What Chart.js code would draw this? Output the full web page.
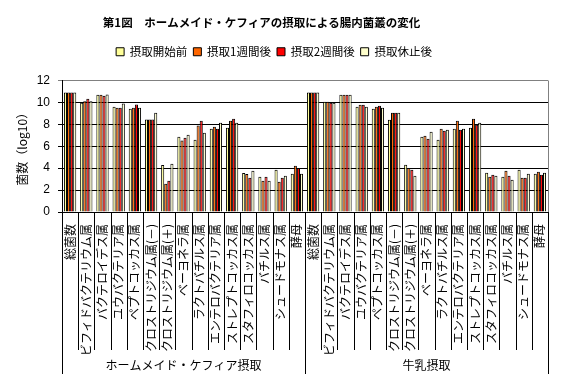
<!DOCTYPE html>
<html>
<head>
<meta charset="utf-8">
<script src="https://cdn.jsdelivr.net/npm/chart.js@4"></script>
<style>
  html, body { margin: 0; padding: 0; background: #fff; }
  #wrap { width: 563px; height: 391px; }
</style>
</head>
<body>
<div id="wrap"><canvas id="chart"></canvas></div>
<script>
const chartTitle = '第1図　ホームメイド・ケフィアの摂取による腸内菌叢の変化';
const groups = ['ホームメイド・ケフィア摂取', '牛乳摂取'];
const bacteria = ['総菌数', 'ビフィドバクテリウム属', 'バクテロイデス属', 'ユウバクテリア属', 'ペプトコッカス属',
  'クロストリジウム属(－)', 'クロストリジウム属(＋)', 'ベーヨネラ属', 'ラクトバチルス属', 'エンテロバクテリア属',
  'ストレプトコッカス属', 'スタフィロコッカス属', 'バチルス属', 'シュードモナス属', '酵母'];
const seriesNames = ['摂取開始前', '摂取1週間後', '摂取2週間後', '摂取休止後'];
const yTicks = [0, 2, 4, 6, 8, 10, 12];

// kefir group first, then milk group
const before = [10.9, 9.97, 10.7, 9.6, 9.42, 8.45, 4.3, 6.87, 6.6, 7.6, 7.69, 3.56, 3.22, 3.86, 3.5,
  10.9, 10.06, 10.7, 9.6, 9.42, 8.42, 4.32, 6.87, 6.6, 7.6, 7.69, 3.59, 3.22, 3.86, 3.5];
const week1 = [10.9, 10.1, 10.7, 9.51, 9.51, 8.45, 2.58, 6.53, 7.9, 7.78, 8.33, 3.47, 2.86, 2.77, 4.22,
  10.9, 10.06, 10.7, 9.79, 9.6, 9.06, 4.01, 6.96, 7.6, 8.33, 8.51, 3.22, 3.77, 3.13, 3.68];
const week2 = [10.9, 10.33, 10.6, 9.51, 9.82, 8.45, 2.86, 6.78, 8.33, 7.6, 8.51, 3.13, 3.22, 3.13, 4.01,
  10.9, 9.97, 10.7, 9.79, 9.7, 9.06, 3.86, 6.69, 7.42, 7.5, 7.96, 3.4, 3.31, 3.13, 3.4];
const after = [10.9, 10.1, 10.73, 9.9, 9.51, 9.06, 4.4, 7.05, 7.23, 8.15, 8.15, 3.77, 2.86, 3.31, 3.5,
  10.9, 9.97, 10.7, 9.6, 9.51, 9.06, 3.31, 7.33, 7.5, 7.6, 8.15, 3.31, 2.95, 3.5, 3.59];

const colors = ['#FFFF99', '#FF6600', '#FF0000', '#FFFFCC'];
const labels = groups.flatMap(() => bacteria);
const jp = '"Noto Sans CJK JP", "Noto Sans", sans-serif';

// divider lines under the axis, group names and the plot border
const extras = {
  id: 'extras',
  beforeInit(chart) {
    const fit = chart.legend.fit;
    chart.legend.fit = function() {
      fit.call(this);
      this.height += 13;
    };
  },
  afterDraw(chart) {
    const {ctx, chartArea} = chart;
    const xs = chart.scales.x;
    const n = labels.length;
    const w = (xs.right - xs.left) / n;
    ctx.save();
    ctx.strokeStyle = '#000';
    ctx.lineWidth = 1;
    for (let i = 0; i <= n; i++) {
      const px = Math.round(xs.left + i * w) + 0.5;
      const end = (i % bacteria.length === 0) ? chartArea.bottom + 162 : chartArea.bottom + 138;
      ctx.beginPath();
      ctx.moveTo(px, chartArea.bottom);
      ctx.lineTo(px, end);
      ctx.stroke();
    }
    // right border of plot area
    ctx.strokeStyle = '#808080';
    ctx.beginPath();
    ctx.moveTo(Math.round(chartArea.right) + 0.5, chartArea.bottom);
    ctx.lineTo(Math.round(chartArea.right) + 0.5, chartArea.top);
    ctx.stroke();
    // group names
    ctx.fillStyle = '#000';
    ctx.font = '12px ' + jp;
    ctx.textAlign = 'center';
    ctx.textBaseline = 'middle';
    groups.forEach((g, gi) => {
      const a = xs.getPixelForValue(gi * bacteria.length);
      const b = xs.getPixelForValue((gi + 1) * bacteria.length - 1);
      ctx.fillText(g, (a + b) / 2, chartArea.bottom + 153);
    });
    // title
    ctx.font = 'bold 11.5px ' + jp;
    ctx.fillText(chartTitle, chart.width / 2 - 20, 23);
    ctx.restore();
  }
};

new Chart(document.getElementById('chart'), {
  type: 'bar',
  data: {
    labels: labels,
    datasets: [before, week1, week2, after].map((d, i) => ({
      label: seriesNames[i],
      data: d,
      backgroundColor: colors[i],
      borderColor: '#000',
      borderWidth: 1,
      categoryPercentage: 0.76,
      barPercentage: 1.0
    }))
  },
  plugins: [extras],
  options: {
    responsive: true,
    maintainAspectRatio: false,
    animation: false,
    layout: { padding: { top: 40, right: 15, left: 0, bottom: 0 } },
    plugins: {
      title: { display: false },
      tooltip: { enabled: false },
      legend: {
        position: 'top',
        labels: {
          boxWidth: 8,
          boxHeight: 8,
          padding: 6,
          color: '#000',
          font: { size: 11.5, family: jp }
        }
      }
    },
    scales: {
      x: {
        grid: { display: false },
        border: { display: true, color: '#000', width: 1 },
        ticks: {
          autoSkip: false,
          minRotation: 90,
          maxRotation: 90,
          padding: 4,
          color: '#000',
          font: { size: 12, family: jp }
        },
        afterFit(scale) { scale.height = 179; }
      },
      y: {
        min: 0,
        max: 12,
        afterBuildTicks(scale) { scale.ticks = yTicks.map(v => ({ value: v })); },
        grid: {
          color: c => c.tick && c.tick.value === 12 ? '#808080' : '#000',
          tickLength: 4,
          drawTicks: true
        },
        border: { display: true, color: '#000', width: 1 },
        ticks: {
          padding: 8,
          color: '#000',
          font: { size: 12, family: '"Liberation Sans", sans-serif' }
        },
        title: {
          display: true,
          text: '菌数（log10）',
          color: '#000',
          padding: { top: 15, bottom: 4 },
          font: { size: 12, family: jp }
        },
        afterFit(scale) { scale.width = 62; }
      }
    }
  }
});
</script>
</body>
</html>
